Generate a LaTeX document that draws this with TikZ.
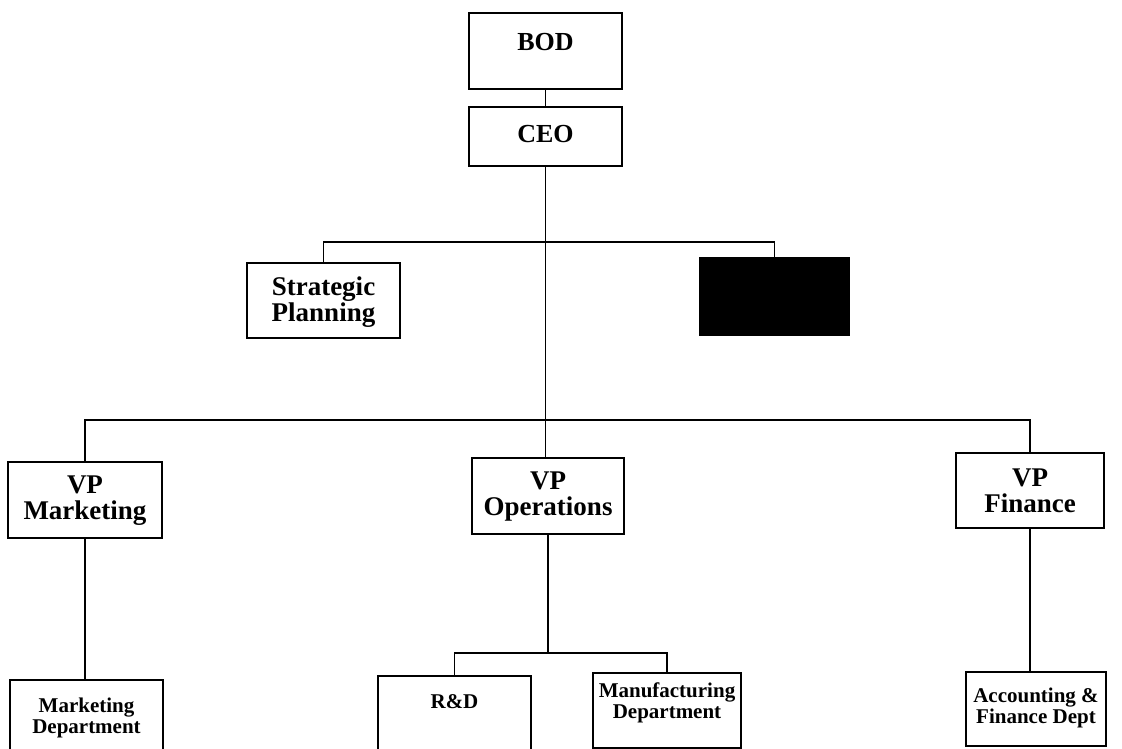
\documentclass[tikz,border=0pt]{standalone}
\usepackage{fontspec}
\setmainfont{Liberation Serif}
\begin{document}
\begin{tikzpicture}[x=1pt,y=-1pt,
  box/.style={draw, line width=2pt, anchor=north west, inner sep=0pt, outer sep=0pt},
  lbl/.style={font=\bfseries\fontsize{27}{26}\selectfont, align=center, inner sep=0pt},
  lblsmall/.style={font=\bfseries\fontsize{21}{21}\selectfont, align=center, inner sep=0pt},
  wire/.style={line width=1.9pt}]
\useasboundingbox (0,0) rectangle (1122,749);

% top of the chart
\node[box, minimum width=153pt, minimum height=76pt] (bod) at (469,13) {};
\node[lbl, font=\bfseries\fontsize{26}{26}\selectfont] (bodt) at (545.5,42) {BOD};
\node[box, minimum width=153pt, minimum height=59pt] (ceo) at (469,107) {};
\node[lbl, font=\bfseries\fontsize{26}{26}\selectfont] (ceot) at (545.5,134) {CEO};

% staff units
\node[box, minimum width=153pt, minimum height=75pt] (sp) at (247,263) {};
\node[lbl] (spt) at (323.5,302) {Strategic\\Planning};
\node[box, fill=black, minimum width=149pt, minimum height=77pt] (blk) at (700,258) {};

% vice presidents
\node[box, minimum width=154pt, minimum height=76pt] (vpm) at (8,462) {};
\node[lbl] (vpmt) at (85,501) {VP\\Marketing};
\node[box, minimum width=152pt, minimum height=76pt] (vpo) at (472,458) {};
\node[lbl] (vpot) at (548,497) {VP\\Operations};
\node[box, minimum width=148pt, minimum height=75pt] (vpf) at (956,453) {};
\node[lbl] (vpft) at (1030,491) {VP\\Finance};

% departments
\node[box, minimum width=153pt, minimum height=100pt] (mkd) at (10,680) {};
\node[lblsmall] (mkdt) at (86.5,718) {Marketing\\Department};
\node[box, minimum width=153pt, minimum height=100pt] (rd) at (378,676) {};
\node[lblsmall] (rdt) at (454.5,702) {R\&D};
\node[box, minimum width=148pt, minimum height=75pt] (mfg) at (593,673) {};
\node[lblsmall] (mfgt) at (667,703) {Manufacturing\\Department};
\node[box, minimum width=140pt, minimum height=74pt] (acc) at (966,672) {};
\node[lblsmall] (acct) at (1036,708) {Accounting \&\\Finance Dept};

% junctions on the connector lines
\coordinate (j1) at (545,242);
\coordinate (j2) at (545,420);
\coordinate (j3) at (vpo.south |- 0,653);

% connectors
\draw[wire] (bod.south) -- (ceo.north);
\draw[wire] (ceo.south) -- (ceo.south |- vpo.north);
\draw[wire] (sp.north) |- (j1) -| (blk.north);
\draw[wire] (vpm.north) |- (j2) -| (vpf.north);
\draw[wire] (vpm.south) -- (vpm.south |- mkd.north);
\draw[wire] (vpo.south) -- (j3);
\draw[wire] (rd.north) |- (j3) -| (mfg.north);
\draw[wire] (vpf.south) -- (vpf.south |- acc.north);
\end{tikzpicture}
\end{document}
